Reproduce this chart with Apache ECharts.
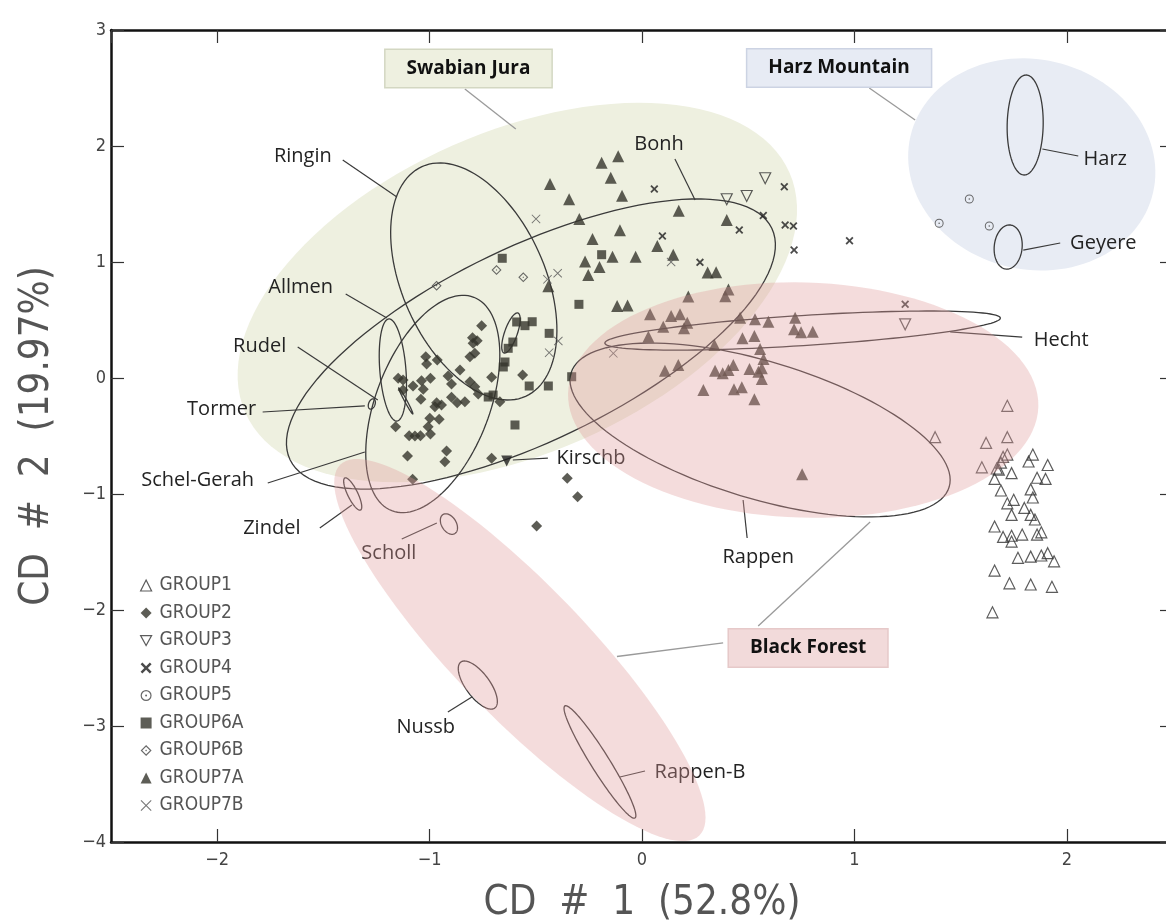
<!DOCTYPE html>
<html>
<head>
<meta charset="utf-8">
<script src="https://cdn.jsdelivr.net/npm/echarts@6/dist/echarts.min.js"></script>
<style>
  html, body { margin: 0; padding: 0; background: #fff; }
  #chart { width: 1166px; height: 923px; }
</style>
</head>
<body>
<div id="chart"></div>
<script>
// ---- data (CD #1, CD #2) ----
const groupNames = ['GROUP1', 'GROUP2', 'GROUP3', 'GROUP4', 'GROUP5', 'GROUP6A', 'GROUP6B', 'GROUP7A', 'GROUP7B'];

const group1 = [
  [1.72, -0.24], [1.38, -0.51], [1.72, -0.51], [1.62, -0.56], [1.72, -0.66], [1.70, -0.68],
  [1.84, -0.66], [1.82, -0.72], [1.91, -0.75], [1.60, -0.77], [1.67, -0.78], [1.69, -0.73],
  [1.68, -0.79], [1.74, -0.82], [1.66, -0.87], [1.86, -0.86], [1.90, -0.87], [1.83, -0.96],
  [1.69, -0.97], [1.84, -1.03], [1.75, -1.05], [1.72, -1.08], [1.80, -1.12], [1.74, -1.18],
  [1.83, -1.18], [1.85, -1.22], [1.66, -1.28], [1.88, -1.33], [1.86, -1.35], [1.70, -1.37],
  [1.74, -1.36], [1.74, -1.41], [1.79, -1.35], [1.77, -1.55], [1.83, -1.54], [1.88, -1.53],
  [1.91, -1.51], [1.94, -1.58], [1.66, -1.66], [1.73, -1.77], [1.83, -1.78], [1.93, -1.80],
  [1.65, -2.02]
];
const group2 = [
  [-0.755, 0.451], [-0.798, 0.347], [-0.776, 0.322], [-0.795, 0.299], [-0.787, 0.213], [-0.810, 0.184],
  [-1.018, 0.184], [-1.014, 0.121], [-0.964, 0.155], [-0.857, 0.069], [-1.148, -0.003], [-1.125, -0.017],
  [-1.078, -0.069], [-1.125, -0.103], [-1.038, -0.023], [-0.996, -0.003], [-1.030, -0.097], [-1.041, -0.184],
  [-0.913, 0.017], [-0.897, -0.052], [-0.810, -0.032], [-0.787, -0.075], [-0.771, -0.138], [-0.708, 0.006],
  [-0.562, 0.026], [-0.967, -0.213], [-0.944, -0.233], [-0.975, -0.247], [-0.897, -0.166], [-0.870, -0.213],
  [-0.834, -0.204], [-0.669, -0.204], [-0.999, -0.347], [-0.955, -0.356], [-1.007, -0.420], [-0.996, -0.483],
  [-1.160, -0.420], [-1.096, -0.497], [-1.069, -0.500], [-1.043, -0.497], [-0.920, -0.629], [-0.928, -0.722],
  [-1.104, -0.672], [-0.708, -0.692], [-1.080, -0.873], [-0.352, -0.865], [-0.303, -1.023], [-0.496, -1.276]
];
const group3 = [[0.580, 1.722], [0.493, 1.569], [0.399, 1.541], [1.239, 0.463]];
const group4 = [
  [0.058, 1.629], [0.670, 1.649], [0.571, 1.401], [0.458, 1.276], [0.674, 1.319], [0.713, 1.310],
  [0.716, 1.103], [0.096, 1.224], [0.273, 0.997], [0.977, 1.184], [1.239, 0.635]
];
const group5 = [[1.541, 1.543], [1.399, 1.334], [1.635, 1.310]];
const group6a = [
  [-0.658, 1.032], [-0.190, 1.063], [-0.297, 0.635], [-0.590, 0.483], [-0.551, 0.451], [-0.517, 0.485],
  [-0.437, 0.385], [-0.630, 0.256], [-0.608, 0.310], [-0.645, 0.138], [-0.653, 0.095], [-0.531, -0.069],
  [-0.441, -0.069], [-0.701, -0.147], [-0.724, -0.164], [-0.598, -0.405], [-0.331, 0.011]
];
const group6b = [[-0.967, 0.796], [-0.685, 0.931], [-0.559, 0.868]];
const group7a = [
  [-0.112, 1.911], [-0.190, 1.856], [-0.147, 1.726], [-0.433, 1.672], [-0.343, 1.541], [-0.094, 1.572],
  [-0.295, 1.371], [0.173, 1.442], [0.399, 1.362], [-0.233, 1.198], [-0.104, 1.273], [0.072, 1.138],
  [0.147, 1.063], [-0.268, 1.004], [-0.139, 1.046], [-0.030, 1.046], [-0.200, 0.957], [-0.253, 0.888],
  [-0.441, 0.791], [0.309, 0.909], [0.349, 0.912], [-0.117, 0.621], [-0.068, 0.625], [0.218, 0.703],
  [0.407, 0.763], [0.392, 0.704], [0.038, 0.549], [0.137, 0.534], [0.179, 0.549], [0.100, 0.442],
  [0.213, 0.477], [0.198, 0.428], [0.030, 0.356], [0.462, 0.520], [0.532, 0.506], [0.595, 0.485],
  [0.721, 0.520], [0.716, 0.420], [0.749, 0.394], [0.804, 0.399], [0.341, 0.284], [0.473, 0.342],
  [0.529, 0.362], [0.556, 0.250], [0.572, 0.164], [0.108, 0.063], [0.171, 0.112], [0.344, 0.063],
  [0.380, 0.041], [0.407, 0.069], [0.430, 0.112], [0.506, 0.078], [0.548, 0.054], [0.564, 0.084],
  [0.564, -0.009], [0.289, -0.103], [0.433, -0.097], [0.470, -0.080], [0.529, -0.184], [0.754, -0.830]
];
const group7b = [
  [-0.499, 1.371], [-0.397, 0.903], [-0.445, 0.851], [0.137, 1.000], [-0.394, 0.319], [-0.437, 0.218],
  [-0.135, 0.213]
];
const kirschbPoint = [[-0.637, -0.716]];

// ellipses: [centre x, centre y, end of main semi-axis x, y, minor/major ratio]
const ellipseNames = ['Bonh', 'Ringin', 'Schel-Gerah', 'Allmen', 'Rudel', 'Tormer', 'Zindel', 'Scholl',
  'Rappen', 'Hecht', 'Harz', 'Geyere', 'Nussb', 'Rappen-B', ''];
const ellipses = [
  [-0.523, 0.293, 0.611, 1.291, 0.363],
  [-0.792, 0.832, -0.548, -0.158, 0.566],
  [-0.985, -0.224, -0.792, 0.696, 0.497],
  [-1.173, 0.069, -1.192, 0.509, 0.255],
  [-1.112, -0.198, -1.079, -0.310, 0.08],
  [-1.272, -0.224, -1.263, -0.181, 0.6],
  [-1.362, -1.000, -1.399, -0.862, 0.28],
  [-0.909, -1.259, -0.881, -1.341, 0.65],
  [0.556, -0.448, 1.446, -0.940, 0.347],
  [0.756, 0.409, 1.687, 0.517, 0.076],
  [1.804, 2.181, 1.809, 2.612, 0.36],
  [1.724, 1.129, 1.734, 1.319, 0.63],
  [-0.773, -2.647, -0.693, -2.845, 0.42],
  [-0.198, -3.310, -0.033, -3.793, 0.14],
  [-0.617, 0.388, -0.584, 0.560, 0.3]
];
const regionNames = ['Swabian Jura', 'Harz Mountain', 'Black Forest'];
const greenRegions = [[-0.587, 0.737, 0.694, 1.772, 0.54]];
const blueRegions = [[1.835, 1.841, 2.406, 1.597, 0.843]];
const pinkRegions = [[0.759, -0.190, 1.866, -0.248, 0.5], [-0.575, -2.345, 0.270, -3.944, 0.256]];

// callouts: [text x, text y, line from x, y, line to x, y]
const calloutNames = ['Ringin', 'Bonh', 'Allmen', 'Rudel', 'Tormer', 'Schel-Gerah', 'Zindel', 'Scholl',
  'Kirschb', 'Rappen', 'Hecht', 'Harz', 'Geyere', 'Nussb', 'Rappen-B'];
const callouts = [
  [-1.597, 1.914, -1.409, 1.879, -1.154, 1.560],
  [0.080, 2.017, 0.155, 1.888, 0.250, 1.534],
  [-1.607, 0.784, -1.395, 0.724, -1.201, 0.517],
  [-1.800, 0.276, -1.621, 0.267, -1.244, -0.190],
  [-1.979, -0.267, -1.786, -0.293, -1.305, -0.241],
  [-2.092, -0.879, -1.762, -0.905, -1.305, -0.638],
  [-1.743, -1.293, -1.517, -1.293, -1.366, -1.095],
  [-1.192, -1.509, -1.131, -1.388, -0.966, -1.250],
  [-0.240, -0.690, -0.443, -0.690, -0.608, -0.707],
  [0.547, -1.543, 0.495, -1.379, 0.476, -1.052],
  [1.974, 0.328, 1.790, 0.353, 1.451, 0.397],
  [2.181, 1.888, 2.054, 1.914, 1.885, 1.974],
  [2.172, 1.164, 1.969, 1.164, 1.795, 1.103],
  [-1.018, -3.009, -0.914, -2.879, -0.801, -2.750],
  [0.273, -3.397, 0.014, -3.388, -0.104, -3.440]
];
// region boxes: [x, y] and their pointer lines [x1, y1, x2, y2]
const regionBoxes = [[-0.817, 2.668], [0.928, 2.672], [0.782, -2.328]];
const regionPointers = [
  [-0.834, 2.491, -0.594, 2.147],
  [1.070, 2.500, 1.286, 2.224],
  [0.382, -2.284, -0.118, -2.401],
  [0.547, -2.138, 1.074, -1.241]
];

// ---- symbols ----
const symInvTri = 'path://M0,0 L10,0 L5,9 Z';
const symBoldX = 'path://M0,1.6 L1.6,0 L5,3.4 L8.4,0 L10,1.6 L6.6,5 L10,8.4 L8.4,10 L5,6.6 L1.6,10 L0,8.4 L3.4,5 Z';
const symThinX = 'path://M0,0.7 L0.7,0 L5,4.3 L9.3,0 L10,0.7 L5.7,5 L10,9.3 L9.3,10 L5,5.7 L0.7,10 L0,9.3 L4.3,5 Z';
const symRingDot = 'path://M5,0 A5,5 0 1,1 5,10 A5,5 0 1,1 5,0 Z M5,1.1 A3.9,3.9 0 1,0 5,8.9 A3.9,3.9 0 1,0 5,1.1 Z M5,4.1 A0.9,0.9 0 1,1 5,5.9 A0.9,0.9 0 1,1 5,4.1 Z';
const symDiamondDot = 'path://M5,0 L10,5 L5,10 L0,5 Z M5,1.5 L1.5,5 L5,8.5 L8.5,5 Z M5,4.2 L5.8,5 L5,5.8 L4.2,5 Z';

const dark = '#34342c';
const outlineStyle = { color: 'rgba(255,255,255,0)', borderColor: '#333', borderWidth: 1.2 };

function ellipsePoints(api, e) {
  const c = api.coord([e[0], e[1]]);
  const m = api.coord([e[2], e[3]]);
  const ux = m[0] - c[0], uy = m[1] - c[1];
  const vx = -uy * e[4], vy = ux * e[4];
  const pts = [];
  for (let i = 0; i < 120; i++) {
    const t = i / 120 * Math.PI * 2;
    pts.push([c[0] + ux * Math.cos(t) + vx * Math.sin(t), c[1] + uy * Math.cos(t) + vy * Math.sin(t)]);
  }
  return pts;
}

function ellipseSeries(name, list, style, z) {
  return {
    name: name,
    type: 'custom',
    z: z,
    silent: true,
    encode: { x: [0, 2], y: [1, 3] },
    data: list,
    renderItem: function (params, api) {
      const e = list[params.dataIndex];
      return { type: 'polygon', shape: { points: ellipsePoints(api, e) }, style: style };
    }
  };
}

function scatter(name, data, symbol, size, itemStyle) {
  return {
    name: name, type: 'scatter', data: data, symbol: symbol, symbolSize: size,
    itemStyle: itemStyle, z: 4, silent: true
  };
}

const tickFont = "'Liberation Sans Narrow', 'DejaVu Sans Condensed', 'Liberation Sans', sans-serif";
const labelFont = "'Open Sans', 'Noto Sans', sans-serif";
const minusFmt = function (v) { return v < 0 ? '\u2212' + (-v) : String(v); };

const chart = echarts.init(document.getElementById('chart'), null, { renderer: 'canvas' });

const option = {
  animation: false,
  backgroundColor: '#fff',
  // the right frame edge sits just outside the picture
  grid: { left: 111, top: 30, width: 1062, height: 812, outerBoundsMode: 'none', containLabel: false },
  legend: {
    data: groupNames,
    orient: 'vertical',
    left: 135,
    top: 571,
    itemWidth: 11,
    itemHeight: 11,
    itemGap: 8.5,
    itemStyle: { borderWidth: 1.2 },
    textStyle: { fontFamily: tickFont, fontSize: 19, lineHeight: 18, color: '#555', padding: [0, 0, 0, 3] },
    selectedMode: false
  },
  xAxis: [
    {
      type: 'value', min: -2.5, max: 2.5, position: 'bottom',
      name: 'CD  #  1  (52.8%)', nameLocation: 'middle', nameGap: 42,
      nameTextStyle: { fontFamily: tickFont, fontSize: 40, color: '#555' },
      axisLine: { onZero: false, lineStyle: { color: '#111', width: 2.5 } },
      axisTick: { inside: true, length: 13, lineStyle: { color: '#333', width: 1.2 } },
      axisLabel: { showMinLabel: false, showMaxLabel: false, margin: 9, fontFamily: tickFont, fontSize: 18, color: '#444', formatter: minusFmt },
      splitLine: { show: false }
    },
    {
      type: 'value', min: -2.5, max: 2.5, position: 'top',
      axisLine: { onZero: false, lineStyle: { color: '#111', width: 2.5 } },
      axisTick: { inside: true, length: 13, lineStyle: { color: '#333', width: 1.2 } },
      axisLabel: { show: false },
      splitLine: { show: false }
    }
  ],
  yAxis: [
    {
      type: 'value', min: -4, max: 3, interval: 1, position: 'left',
      name: 'CD  #  2  (19.97%)', nameLocation: 'middle', nameGap: 53,
      nameTextStyle: { fontFamily: tickFont, fontSize: 40, color: '#555' },
      axisLine: { onZero: false, lineStyle: { color: '#111', width: 2.5 } },
      axisTick: { inside: true, length: 13, lineStyle: { color: '#333', width: 1.2 } },
      axisLabel: { margin: 5, fontFamily: tickFont, fontSize: 18, color: '#444', formatter: minusFmt, padding: [0, 0, 8, 0] },
      splitLine: { show: false }
    },
    {
      type: 'value', min: -4, max: 3, interval: 1, position: 'right',
      axisLine: { onZero: false, lineStyle: { color: '#111', width: 2.5 } },
      axisTick: { inside: true, length: 13, lineStyle: { color: '#333', width: 1.2 } },
      axisLabel: { show: false },
      splitLine: { show: false }
    }
  ],
  series: [
    ellipseSeries('Swabian Jura region', greenRegions, { fill: '#eef0e0', stroke: 'none' }, 1),
    ellipseSeries('Harz Mountain region', blueRegions, { fill: '#e8ecf4', stroke: 'none' }, 1),
    ellipseSeries('ellipses', ellipses, { fill: 'none', stroke: '#3a3a3a', lineWidth: 1.3 }, 3),
    scatter('GROUP1', group1, 'triangle', 11, outlineStyle),
    scatter('GROUP2', group2, 'diamond', 11, { color: dark }),
    scatter('GROUP3', group3, symInvTri, 11, outlineStyle),
    scatter('GROUP4', group4, symBoldX, 8, { color: '#1e1e1e' }),
    scatter('GROUP5', group5, symRingDot, 9, { color: '#444' }),
    scatter('GROUP6A', group6a, 'rect', 9, { color: dark }),
    scatter('GROUP6B', group6b, symDiamondDot, 10, { color: '#444' }),
    scatter('GROUP7A', group7a, 'triangle', 12, { color: dark }),
    scatter('GROUP7B', group7b, symThinX, 9, { color: '#555' }),
    scatter('Kirschb', kirschbPoint, symInvTri, 11, { color: '#1e1e1e' }),
    {
      name: 'callouts',
      type: 'custom',
      z: 4,
      silent: true,
      encode: { x: [0, 2, 4], y: [1, 3, 5] },
      data: callouts,
      renderItem: function (params, api) {
        const d = callouts[params.dataIndex];
        const t = api.coord([d[0], d[1]]);
        const a = api.coord([d[2], d[3]]);
        const b = api.coord([d[4], d[5]]);
        return {
          type: 'group',
          children: [
            { type: 'line', shape: { x1: a[0], y1: a[1], x2: b[0], y2: b[1] }, style: { stroke: '#3a3a3a', lineWidth: 1.2 } },
            { type: 'text', x: t[0], y: t[1], style: { text: calloutNames[params.dataIndex], fill: '#232323', fontSize: 20, fontFamily: labelFont, align: 'center', verticalAlign: 'middle' } }
          ]
        };
      }
    },
    ellipseSeries('Black Forest region', pinkRegions, { fill: 'rgba(224,155,155,0.35)', stroke: 'none' }, 5),
    {
      name: 'region pointers',
      type: 'custom',
      z: 6,
      silent: true,
      encode: { x: [0, 2], y: [1, 3] },
      data: regionPointers,
      renderItem: function (params, api) {
        const d = regionPointers[params.dataIndex];
        const a = api.coord([d[0], d[1]]);
        const b = api.coord([d[2], d[3]]);
        return { type: 'line', shape: { x1: a[0], y1: a[1], x2: b[0], y2: b[1] }, style: { stroke: '#9a9a9a', lineWidth: 1.3 } };
      }
    },
    {
      name: 'region labels',
      type: 'custom',
      z: 7,
      silent: true,
      data: regionBoxes,
      renderItem: function (params, api) {
        const p = api.coord(regionBoxes[params.dataIndex]);
        const fills = ['#eef0e0', '#e7ebf4', '#f2dada'];
        const borders = ['#d3d7c2', '#ccd3e3', '#e6c9c9'];
        return {
          type: 'text', x: p[0], y: p[1],
          style: {
            text: regionNames[params.dataIndex], fill: '#111', fontSize: 19, fontWeight: 'bold', fontFamily: labelFont,
            align: 'center', verticalAlign: 'middle', backgroundColor: fills[params.dataIndex],
            borderColor: borders[params.dataIndex], borderWidth: 1.5, padding: [9, 21, 9, 21]
          }
        };
      }
    }
  ]
};

chart.setOption(option);
</script>
</body>
</html>
